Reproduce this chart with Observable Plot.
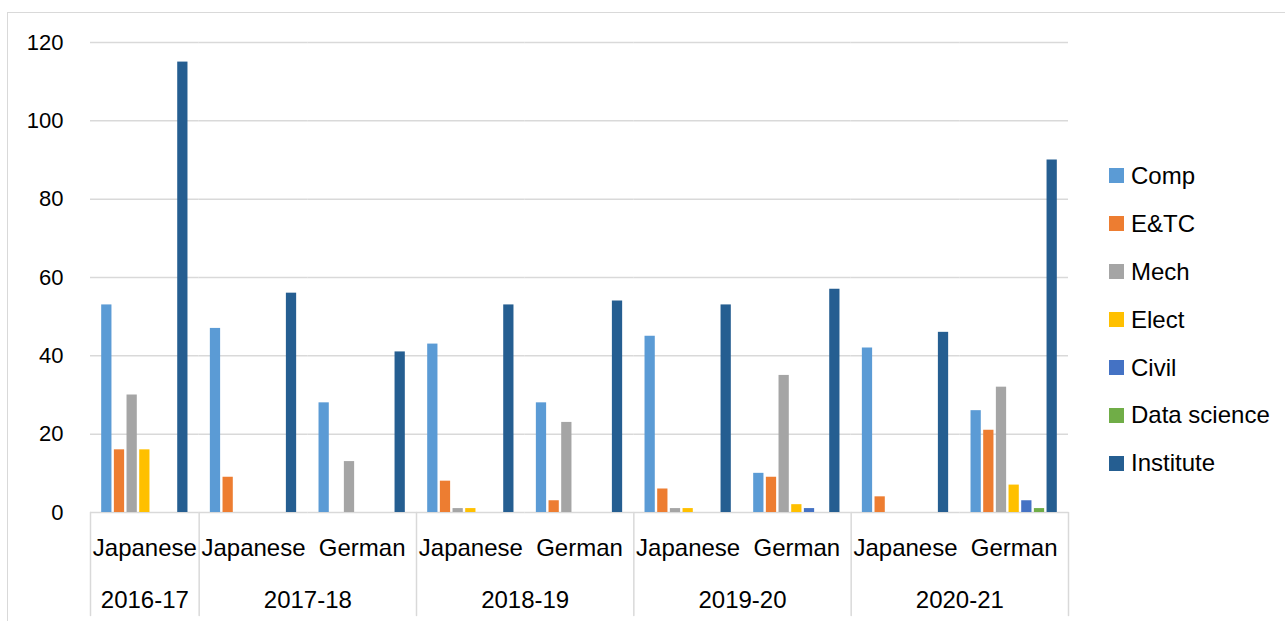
<!DOCTYPE html>
<html>
<head>
<meta charset="utf-8">
<script src="https://cdn.jsdelivr.net/npm/d3@7"></script>
<script src="https://cdn.jsdelivr.net/npm/@observablehq/plot@0.6"></script>
<style>
  html, body { margin: 0; padding: 0; background: #fff; }
  #wrap { position: relative; width: 1285px; height: 621px; overflow: hidden; font-family: "Liberation Sans", Arial, sans-serif; }
  #border { position: absolute; left: 7px; top: 12px; width: 1290px; height: 640px; border: 1.5px solid #d9d9d9; box-sizing: border-box; }
  #chart { position: absolute; left: 0; top: 0; }
  #legend { position: absolute; left: 1109px; top: 152px; color: #000; font-size: 24px; }
  .item { display: flex; align-items: center; height: 47.9px; white-space: nowrap; }
  .sw { width: 15px; height: 15px; margin-right: 7px; flex: none; }
</style>
</head>
<body>
<div id="wrap">
  <div id="border"></div>
  <div id="chart"></div>
  <div id="legend"></div>
</div>
<script>
// ---- data ----
const years = ["2016-17", "2017-18", "2017-18", "2018-19", "2018-19", "2019-20", "2019-20", "2020-21", "2020-21"];
const languages = ["Japanese", "Japanese", "German", "Japanese", "German", "Japanese", "German", "Japanese", "German"];
const series = ["Comp", "E&TC", "Mech", "Elect", "Civil", "Data science", "Institute"];
const comp = [53, 47, 28, 43, 28, 45, 10, 42, 26];
const etc = [16, 9, 0, 8, 3, 6, 9, 4, 21];
const mech = [30, 0, 13, 1, 23, 1, 35, 0, 32];
const elect = [16, 0, 0, 1, 0, 1, 2, 0, 7];
const civil = [0, 0, 0, 0, 0, 0, 1, 0, 3];
const dataScience = [0, 0, 0, 0, 0, 0, 0, 0, 1];
const institute = [115, 56, 41, 53, 54, 53, 57, 46, 90];
const yTicks = [0, 20, 40, 60, 80, 100, 120];
const colors = ["#5B9BD5", "#ED7D31", "#A5A5A5", "#FFC000", "#4472C4", "#70AD47", "#255E91"];

// ---- derived tables ----
const seriesValues = [comp, etc, mech, elect, civil, dataScience, institute];
const keys = years.map((y, i) => y + " " + languages[i]);
const rows = [];
keys.forEach((k, i) => series.forEach((s, j) => rows.push({key: k, series: s, value: seriesValues[j][i]})));

const groups = [];
years.forEach((y, i) => {
  if (i === 0 || years[i - 1] !== y) groups.push({year: y, first: keys[i], count: 1});
  else groups[groups.length - 1].count++;
});
const lastKey = keys[keys.length - 1];
const langOf = new Map(keys.map((k, i) => [k, languages[i]]));

const lineShape = {draw(context, l) { context.moveTo(0, 0); context.lineTo(0, -l); }};
const gray = "#d9d9d9";

const chart = Plot.plot({
  width: 1285,
  height: 621,
  marginLeft: 90,
  marginRight: 217,
  marginTop: 42,
  marginBottom: 109,
  style: {fontFamily: "'Liberation Sans', Arial, sans-serif", color: "#000", background: "transparent", overflow: "visible"},
  fx: {domain: keys, padding: 0, round: false, axis: null},
  x: {domain: series, paddingInner: 0.19, paddingOuter: 0.883, round: false, axis: null},
  y: {domain: [0, 120], axis: null},
  color: {domain: series, range: colors},
  marks: [
    Plot.gridY(yTicks, {stroke: gray, strokeOpacity: 1, strokeWidth: 1.5}),
    Plot.axisY(yTicks, {tickSize: 0, tickPadding: 27, fontSize: 22, label: null, tickFormat: d => d}),
    Plot.barY(rows.filter(d => d.value > 0), {fx: "key", x: "series", y: "value", fill: "series"}),
    Plot.vector(groups, {fx: "first", frameAnchor: "bottom-left", length: 103, rotate: 180, anchor: "start", shape: lineShape, stroke: gray, strokeWidth: 1.5}),
    Plot.vector([lastKey], {fx: d => d, frameAnchor: "bottom-right", length: 103, rotate: 180, anchor: "start", shape: lineShape, stroke: gray, strokeWidth: 1.5}),
    Plot.axisFx({anchor: "bottom", tickSize: 0, tickPadding: 26, fontSize: 24, label: null, tickFormat: k => langOf.get(k)}),
    Plot.text(groups.filter(g => g.count === 1), {fx: "first", text: "year", frameAnchor: "bottom", textAnchor: "middle", lineAnchor: "top", dy: 78, fontSize: 24, fill: "#000"}),
    Plot.text(groups.filter(g => g.count > 1), {fx: "first", text: "year", frameAnchor: "bottom-right", textAnchor: "middle", lineAnchor: "top", dy: 78, fontSize: 24, fill: "#000"})
  ]
});
document.getElementById("chart").appendChild(chart);

// ---- legend ----
const legend = document.getElementById("legend");
series.forEach((s, i) => {
  const item = document.createElement("div");
  item.className = "item";
  const sw = document.createElement("span");
  sw.className = "sw";
  sw.style.background = colors[i];
  const label = document.createElement("span");
  label.textContent = s;
  item.appendChild(sw);
  item.appendChild(label);
  legend.appendChild(item);
});
</script>
</body>
</html>
